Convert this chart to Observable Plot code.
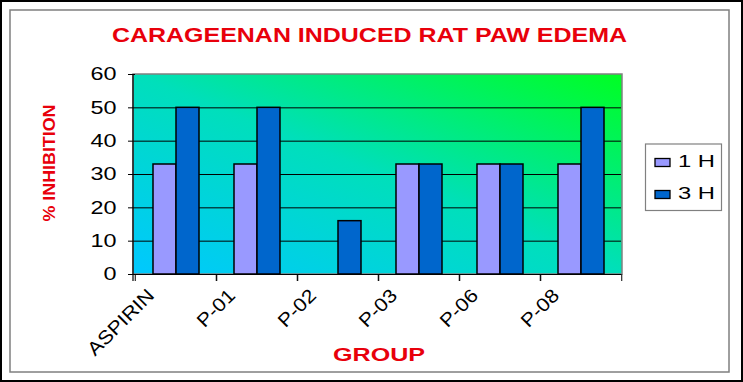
<!DOCTYPE html>
<html><head><meta charset="utf-8">
<script src="https://cdn.jsdelivr.net/npm/d3@7"></script>
<script src="https://cdn.jsdelivr.net/npm/@observablehq/plot@0.6"></script>
<style>
html,body{margin:0;padding:0;background:white;}
#chart{position:relative;width:743px;height:382px;}
</style></head><body><div id="chart"></div>
<script>
const groups = ["ASPIRIN", "P-01", "P-02", "P-03", "P-06", "P-08"];
const series = ["1 H", "3 H"];
const inhibition1H = [33, 33, 0, 33, 33, 33];
const inhibition3H = [50, 50, 16, 33, 33, 50];
const yTicks = [0, 10, 20, 30, 40, 50, 60];
const gridTicks = [10, 20, 30, 40, 50];
const seriesColors = ["#9999ff", "#0066cc"];
const titleText = "CARAGEENAN INDUCED RAT PAW EDEMA";
const yLabelText = "% INHIBITION";
const xLabelText = "GROUP";

const data = groups.flatMap((g, i) => [
  {group: g, series: series[0], value: inhibition1H[i]},
  {group: g, series: series[1], value: inhibition3H[i]}
]);

const W = 743, H = 382, mL = 133, mR = 121, mT = 74, mB = 108;
const step = (W - mL - mR) / groups.length;
const FONT = "'Liberation Sans', Arial, sans-serif";
const RED = "#e8000b";

const plot = Plot.plot({
  width: W, height: H,
  marginLeft: mL, marginRight: mR, marginTop: mT, marginBottom: mB,
  style: {background: "transparent", fontFamily: FONT, color: "black"},
  fx: {domain: groups, padding: 0, label: null},
  x: {domain: series, paddingInner: 0, paddingOuter: 0.745, axis: null},
  y: {domain: [0, 60], label: null},
  color: {domain: series, range: seriesColors},
  marks: [
    Plot.gridY(gridTicks, {stroke: "black", strokeOpacity: 1, strokeWidth: 1}),
    Plot.axisY(yTicks, {tickSize: 7, tickPadding: 12, fontSize: 18, label: null, stroke: "black"}),
    Plot.axisFx({anchor: "bottom", tickSize: 0, tickRotate: -45, fontSize: 19, label: null,
                 textAnchor: "end", lineAnchor: "middle", dx: -25, dy: 6}),
    Plot.axisFx({anchor: "bottom", text: null, tickSize: 7, dx: -step / 2, label: null, stroke: "black"}),
    Plot.axisFx({anchor: "bottom", text: null, tickSize: 7, dx: step / 2, label: null, stroke: "black"}),
    Plot.barY(data, {fx: "group", x: "series", y: "value", fill: "series", stroke: "black", strokeWidth: 1.5}),
    Plot.ruleY([0], {stroke: "black", strokeWidth: 1})
  ]
});

document.getElementById("chart").append(plot);
const svg = d3.select(plot);

// gradient background of plot area
const defs = svg.insert("defs", ":first-child");
const grad = defs.append("linearGradient").attr("id", "bgGrad")
  .attr("x1", 0).attr("y1", 1).attr("x2", 1).attr("y2", 0);
grad.append("stop").attr("offset", "0%").attr("stop-color", "#00c8ff");
grad.append("stop").attr("offset", "50%").attr("stop-color", "#00dfbb");
grad.append("stop").attr("offset", "100%").attr("stop-color", "#00ff22");
const firstG = plot.querySelector("g");
const bg = document.createElementNS("http://www.w3.org/2000/svg", "rect");
bg.setAttribute("x", mL); bg.setAttribute("y", mT);
bg.setAttribute("width", W - mL - mR); bg.setAttribute("height", H - mT - mB);
bg.setAttribute("fill", "url(#bgGrad)"); bg.setAttribute("stroke", "#808080"); bg.setAttribute("stroke-width", 1.5);
plot.insertBefore(bg, firstG);
svg.append("line").attr("x1", mL).attr("x2", mL).attr("y1", mT).attr("y2", H - mB + 7)
  .attr("stroke", "black").attr("stroke-width", 1.2);

// horizontal stretch of tick labels (reference is stretched horizontally)
svg.selectAll('g[aria-label="y-axis tick label"] text').each(function() {
  const L = this.getComputedTextLength();
  this.setAttribute("textLength", L * 1.3);
  this.setAttribute("lengthAdjust", "spacingAndGlyphs");
});
svg.selectAll('g[aria-label="fx-axis tick label"] text').each(function() {
  const L = this.getComputedTextLength();
  this.setAttribute("textLength", L * 1.12);
  this.setAttribute("lengthAdjust", "spacingAndGlyphs");
});

// frames
svg.append("rect").attr("x", 1).attr("y", 1).attr("width", W - 2).attr("height", H - 2)
  .attr("fill", "none").attr("stroke", "black").attr("stroke-width", 2);
svg.append("rect").attr("x", 10).attr("y", 10).attr("width", 719).attr("height", 362)
  .attr("fill", "none").attr("stroke", "#7f7f7f").attr("stroke-width", 1.5);

// title and axis labels
svg.append("text").text(titleText).attr("x", 369.5).attr("y", 42)
  .attr("text-anchor", "middle").attr("font-family", FONT).attr("font-weight", "bold")
  .attr("font-size", 20).attr("fill", RED).attr("textLength", 515).attr("lengthAdjust", "spacingAndGlyphs");
svg.append("text").text(yLabelText).attr("transform", "translate(55,163) rotate(-90)")
  .attr("text-anchor", "middle").attr("font-family", FONT).attr("font-weight", "bold")
  .attr("font-size", 16.5).attr("fill", RED).attr("textLength", 117).attr("lengthAdjust", "spacingAndGlyphs");
svg.append("text").text(xLabelText).attr("x", 379).attr("y", 361)
  .attr("text-anchor", "middle").attr("font-family", FONT).attr("font-weight", "bold")
  .attr("font-size", 18).attr("fill", RED).attr("textLength", 92).attr("lengthAdjust", "spacingAndGlyphs");

// legend
const color = plot.scale("color");
const leg = svg.append("g");
leg.append("rect").attr("x", 645.5).attr("y", 144).attr("width", 76).attr("height", 66.5)
  .attr("fill", "white").attr("stroke", "#808080").attr("stroke-width", 1.2);
color.domain.forEach((s, i) => {
  const base = 167 + 32 * i;
  leg.append("rect").attr("x", 655).attr("y", base - 8.5).attr("width", 15).attr("height", 8)
    .attr("fill", color.range[i]).attr("stroke", "black").attr("stroke-width", 1.3);
  leg.append("text").text(s).attr("x", 678).attr("y", base).attr("font-family", FONT)
    .attr("text-anchor", "start")
    .attr("font-size", 16.5).attr("fill", "black").attr("textLength", 37).attr("lengthAdjust", "spacingAndGlyphs");
});
</script></body></html>
